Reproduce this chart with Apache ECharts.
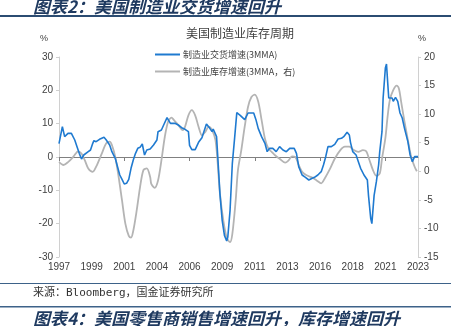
<!DOCTYPE html>
<html><head><meta charset="utf-8">
<script src="https://cdn.jsdelivr.net/npm/echarts@6/dist/echarts.min.js"></script>
<style>html,body{margin:0;padding:0;background:#fff}#c{width:451px;height:326px}</style>
</head><body><div id="c"></div>
<script>
// Month categories 1997-01 .. 2023-08
const startYear = 1997, monthCount = 320;
const categories = [];
for (let k = 0; k < monthCount; k++) {
  const y = startYear + Math.floor(k / 12), m = k % 12 + 1;
  categories.push(y + '-' + (m < 10 ? '0' + m : m));
}
// 制造业交货增速(3MMA), left axis, %
const shipDates = ['1997-01','1997-04','1997-06','1997-09','1997-12','1998-03','1998-05','1998-07','1998-09','1998-11','1998-12','1999-03','1999-05','1999-07','1999-08','1999-10','2000-01','2000-02','2000-05','2000-07','2000-10','2000-12','2001-03','2001-05','2001-07','2001-09','2001-11','2002-01','2002-03','2002-05','2002-07','2002-09','2002-11','2003-01','2003-03','2003-05','2003-07','2003-10','2004-01','2004-04','2004-05','2004-08','2004-10','2005-01','2005-04','2005-08','2005-11','2006-02','2006-05','2006-08','2006-09','2006-11','2007-02','2007-05','2007-08','2007-12','2008-03','2008-05','2008-06','2008-09','2008-10','2008-12','2009-02','2009-04','2009-06','2009-07','2009-09','2009-11','2010-01','2010-03','2010-06','2010-10','2011-01','2011-06','2011-08','2011-10','2012-01','2012-04','2012-06','2012-08','2012-11','2013-02','2013-05','2013-08','2013-11','2014-02','2014-06','2014-08','2014-10','2015-01','2015-04','2015-07','2015-10','2015-12','2016-03','2016-06','2016-08','2016-10','2016-12','2017-03','2017-06','2017-09','2017-12','2018-02','2018-05','2018-07','2018-08','2018-10','2019-01','2019-03','2019-05','2019-08','2019-11','2019-12','2020-02','2020-03','2020-05','2020-07','2020-09','2020-10','2020-12','2021-01','2021-03','2021-04','2021-05','2021-06','2021-09','2021-10','2021-12','2022-02','2022-04','2022-06','2022-08','2022-11','2023-01','2023-03','2023-05','2023-06','2023-08'];
const shipValues = [4.0,9.1,6.1,7.1,7.1,5.1,3.1,1.1,-0.6,0.6,1.1,1.6,2.1,4.1,4.9,4.6,5.3,5.1,5.9,5.1,3.6,1.6,-0.4,-2.9,-5.4,-6.7,-8.1,-7.9,-6.7,-3.4,-0.9,1.1,2.6,2.9,3.9,0.6,2.1,2.4,3.6,5.1,7.6,8.1,9.6,11.8,10.1,10.1,9.6,8.8,8.3,7.6,3.5,2.2,2.2,4.4,5.8,9.9,8.6,7.6,8.4,6.1,0.5,-11,-19,-23.5,-25.2,-24,-16,-2,5.5,13.3,12.5,11.2,13.2,13.2,11.2,8.6,6.1,4.1,1.6,2.6,2.6,1.6,3.1,2.1,1.6,2.6,2.6,1.1,-2.9,-5.4,-6.1,-6.9,-6.4,-6.1,-5.4,-4.4,-2.4,0.1,3.1,3.1,3.8,5.4,5.6,6.1,7.4,6.6,4.4,1.6,0.6,-1.4,-3.4,-5.4,-6.9,-11.5,-18.5,-20,-11.5,-7.4,-2.4,1.6,7.6,17.7,26.7,27.9,22.7,17.7,17.7,16.7,17.9,16.7,13.2,11.7,8.6,4.6,0.6,-1.4,0.1,0.6,0.1];
// 制造业库存增速(3MMA, 右), right axis, %
const invDates = ['1997-01','1997-05','1997-09','1998-02','1998-06','1998-09','1998-12','1999-03','1999-07','1999-10','2000-03','2000-07','2000-10','2000-12','2001-03','2001-06','2001-09','2001-12','2002-03','2002-05','2002-07','2002-10','2003-01','2003-04','2003-07','2003-10','2003-11','2004-02','2004-05','2004-08','2004-11','2005-02','2005-05','2005-07','2005-11','2006-03','2006-05','2006-08','2006-11','2007-02','2007-05','2007-08','2007-11','2008-02','2008-05','2008-08','2008-10','2008-12','2009-03','2009-06','2009-09','2009-11','2010-02','2010-04','2010-07','2010-10','2011-01','2011-04','2011-07','2011-10','2012-01','2012-04','2012-07','2012-10','2013-01','2013-05','2013-10','2014-01','2014-04','2014-07','2014-10','2015-01','2015-05','2015-10','2016-02','2016-06','2016-09','2017-02','2017-06','2017-11','2018-03','2018-07','2018-11','2019-03','2019-07','2019-10','2020-01','2020-04','2020-07','2020-10','2020-12','2021-03','2021-05','2021-07','2021-10','2022-01','2022-03','2022-05','2022-08','2022-11','2023-02','2023-05','2023-07'];
const invValues = [1.6,1.1,1.6,2.6,3.5,3.1,1.9,0.5,-0.1,0.8,3.1,4.9,5.2,4.6,2.5,-1.0,-5.1,-9.2,-11.3,-11.6,-10.4,-6.9,-2.8,0.2,0.5,-1.0,-2.2,-2.9,-1.6,1.9,6.0,8.7,9.4,9.0,8.1,7.2,7.8,9.8,10.7,9.8,7.8,6.3,6.9,7.8,7.2,5.5,1.4,-3.9,-8.6,-11.6,-12.4,-11.0,-5.1,0.2,3.7,7.8,11.3,13.0,13.4,12.2,9.0,5.7,4.0,3.4,2.8,2.2,1.5,1.9,2.6,2.5,1.1,-0.1,-0.7,-1.1,-1.6,-2.1,-1.3,0.5,2.2,3.7,4.3,4.3,3.7,3.4,3.7,3.5,1.9,0.2,-0.8,-0.4,2.2,5.8,9.6,12.5,14.2,15.0,14.5,12.2,8.7,5.5,2.5,0.8,0.0];
// axis ticks
const leftTicks = {min: -30, max: 30, step: 10};
const rightTicks = {min: -15, max: 20, step: 5};

const shipData = shipDates.map((d, k) => [d, shipValues[k]]);
const invData = invDates.map((d, k) => [d, invValues[k]]);

const chart = echarts.init(document.getElementById('c'), null, {renderer: 'canvas'});
const cjk = '"Noto Sans CJK SC", sans-serif';
const lat = '"Liberation Sans", Arial, sans-serif';
const navy = '#1f3a60';
chart.setOption({
  animation: false,
  backgroundColor: '#ffffff',
  grid: {left: 59, right: 33, top: 57, bottom: 69, containLabel: false},
  legend: {
    orient: 'vertical', left: 150, top: 45, itemWidth: 25, itemHeight: 2, itemGap: 8,
    icon: 'rect',
    textStyle: {fontFamily: cjk, fontSize: 9, color: '#404040', padding: [0, 0, 0, -2]},
    data: ['制造业交货增速(3MMA)', '制造业库存增速(3MMA，右)']
  },
  xAxis: [{
    type: 'category', data: categories, boundaryGap: false,
    axisLine: {show: false}, axisTick: {show: false}, splitLine: {show: false},
    axisLabel: {interval: 28, fontFamily: lat, fontSize: 10, color: '#404040', margin: 5,
      formatter: v => v.slice(0, 4)}
  }, {
    type: 'category', data: categories, boundaryGap: false, position: 'bottom',
    axisLine: {show: true, onZero: true, onZeroAxisIndex: 0, lineStyle: {color: '#808080', width: 1}},
    axisTick: {show: true, interval: 57, length: 4, lineStyle: {color: '#808080'}},
    axisLabel: {show: false}, splitLine: {show: false}
  }],
  yAxis: [{
    type: 'value', min: leftTicks.min, max: leftTicks.max, interval: leftTicks.step, position: 'left',
    axisLine: {show: true, lineStyle: {color: '#d0d0d0'}},
    axisTick: {show: true, length: 3, lineStyle: {color: '#d0d0d0'}},
    splitLine: {show: false},
    axisLabel: {fontFamily: lat, fontSize: 10, color: '#404040', margin: 6}
  }, {
    type: 'value', min: rightTicks.min, max: rightTicks.max, interval: rightTicks.step, position: 'right',
    axisLine: {show: true, lineStyle: {color: '#d0d0d0'}},
    axisTick: {show: true, length: 3, lineStyle: {color: '#d0d0d0'}},
    splitLine: {show: false},
    axisLabel: {fontFamily: lat, fontSize: 10, color: '#404040', margin: 6}
  }],
  series: [{
    name: '制造业交货增速(3MMA)', type: 'line', xAxisIndex: 0, yAxisIndex: 0,
    data: shipData, showSymbol: false, symbol: 'none', z: 3,
    lineStyle: {color: '#1f7ad0', width: 1.6}, itemStyle: {color: '#1f7ad0'}
  }, {
    name: '制造业库存增速(3MMA，右)', type: 'line', xAxisIndex: 0, yAxisIndex: 1,
    data: invData, showSymbol: false, symbol: 'none', smooth: 0.3, z: 2,
    lineStyle: {color: '#b4b4b4', width: 1.8}, itemStyle: {color: '#b4b4b4'}
  }],
  graphic: [
    {type: 'text', left: 33, top: -2, style: {text: '图表2：美国制造业交货增速回升', fontFamily: cjk, fontSize: 17, fontWeight: 'bold', fontStyle: 'italic', fill: navy}},
    {type: 'rect', left: 0, top: 15, shape: {width: 451, height: 2}, style: {fill: '#2b4c72'}},
    {type: 'text', x: 240, y: 33, style: {text: '美国制造业库存周期', fontFamily: cjk, fontSize: 12, fill: '#404040', align: 'center', verticalAlign: 'middle'}},
    {type: 'text', x: 44, y: 39, style: {text: '%', fontFamily: lat, fontSize: 9, fill: '#404040', align: 'center', verticalAlign: 'middle'}},
    {type: 'text', x: 422, y: 39, style: {text: '%', fontFamily: lat, fontSize: 9, fill: '#404040', align: 'center', verticalAlign: 'middle'}},
    {type: 'rect', left: 0, top: 283, shape: {width: 451, height: 1}, style: {fill: '#3d6289'}},
    {type: 'text', x: 33, y: 293, style: {text: '来源：Bloomberg，国金证券研究所', fontFamily: '"DejaVu Sans Mono", "Noto Sans CJK SC", monospace', fontSize: 11, fill: '#333', verticalAlign: 'middle'}},
    {type: 'rect', left: 0, top: 306, shape: {width: 451, height: 1.5}, style: {fill: '#3d6289'}},
    {type: 'text', x: 33, y: 319, style: {text: '图表4：美国零售商销售增速回升，库存增速回升', fontFamily: cjk, fontSize: 17, fontWeight: 'bold', fontStyle: 'italic', fill: navy, verticalAlign: 'middle'}}
  ]
});
</script></body></html>
